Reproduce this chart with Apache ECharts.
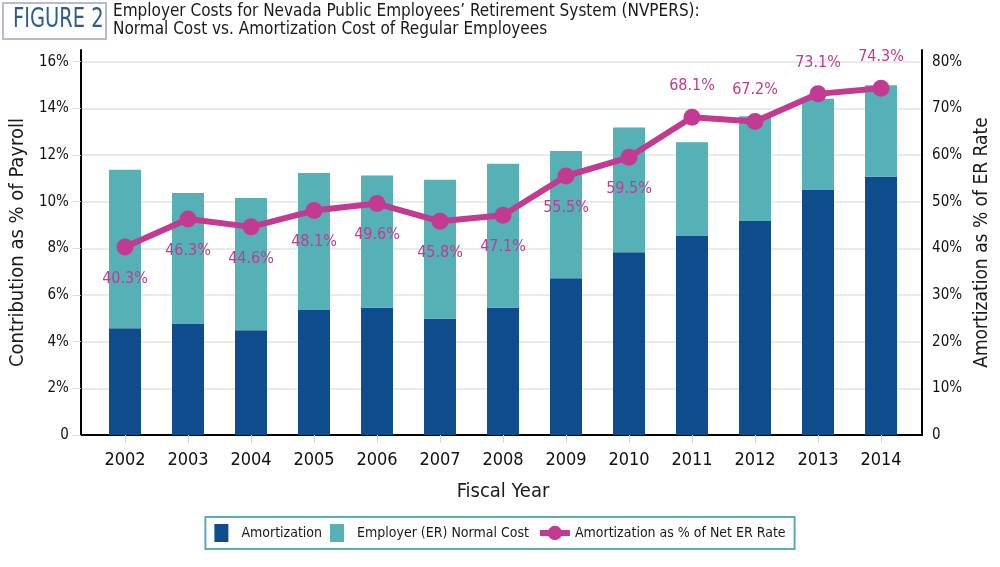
<!DOCTYPE html>
<html>
<head>
<meta charset="utf-8">
<script src="https://cdn.jsdelivr.net/npm/echarts@6/dist/echarts.min.js"></script>
<style>
html,body{margin:0;padding:0;background:#fff;}
#c{width:1000px;height:567px;}
</style>
</head>
<body>
<div id="c"></div>
<script>
var years = ['2002', '2003', '2004', '2005', '2006', '2007', '2008', '2009', '2010', '2011', '2012', '2013', '2014'];
var amortization = [4.58, 4.76, 4.49, 5.36, 5.45, 4.98, 5.45, 6.72, 7.83, 8.53, 9.17, 10.52, 11.07];
var normalCost = [6.79, 5.61, 5.67, 5.87, 5.67, 5.96, 6.17, 5.45, 5.35, 4.02, 4.49, 3.89, 3.92];
var amortPct = [40.3, 46.3, 44.6, 48.1, 49.6, 45.8, 47.1, 55.5, 59.5, 68.1, 67.2, 73.1, 74.3];
var leftTicks = [0, 2, 4, 6, 8, 10, 12, 14, 16];
var rightTicks = [0, 10, 20, 30, 40, 50, 60, 70, 80];
var labelAbove = ['2011', '2012', '2013', '2014'];

var FONT = '"Liberation Sans Narrow", "DejaVu Sans Condensed", "Roboto", sans-serif';
var C_AM = '#0f4c8c', C_NC = '#55b1b6', C_LN = '#c23a92';
var TXT = '#1a1a1a';

var chart = echarts.init(document.getElementById('c'));
chart.setOption({
  animation: false,
  textStyle: { fontFamily: FONT },
  graphic: [
    { type: 'rect', shape: { x: 3, y: 3, width: 103, height: 36 }, style: { fill: '#fff', stroke: '#b9b9d6', lineWidth: 2 } },
    { type: 'text', x: 13, y: 6, scaleX: 0.8, style: { text: 'FIGURE 2', fill: '#2b5d8e', font: '27px ' + FONT } },
    { type: 'text', left: 113, top: 3, style: { text: 'Employer Costs for Nevada Public Employees\u2019 Retirement System (NVPERS):\nNormal Cost vs. Amortization Cost of Regular Employees', fill: TXT, font: '17px ' + FONT, lineHeight: 18 } }
  ],
  grid: [
    { left: 93.5, right: 87.5, top: 50, bottom: 132 },
    { left: 77, right: 72, top: 50, bottom: 132 }
  ],
  xAxis: [
    {
      type: 'category', gridIndex: 0, data: years, boundaryGap: true,
      name: 'Fiscal Year', nameLocation: 'middle', nameGap: 47,
      nameTextStyle: { fontSize: 20, color: TXT, fontFamily: FONT },
      axisLine: { show: false },
      axisTick: { show: true, alignWithLabel: true, length: 8, lineStyle: { color: '#d8d8d8' } },
      axisLabel: { fontSize: 18, color: '#111', margin: 16 },
      splitLine: { show: false }
    },
    {
      type: 'value', gridIndex: 1, min: 0, max: 1,
      axisLine: { show: true, onZero: false, lineStyle: { color: '#000', width: 2 } },
      axisTick: { show: false }, axisLabel: { show: false }, splitLine: { show: false }
    }
  ],
  yAxis: [
    { type: 'value', gridIndex: 0, min: 0, max: 16.5, show: false },
    { type: 'value', gridIndex: 0, min: 0, max: 82.5, show: false },
    {
      type: 'value', gridIndex: 1, position: 'left', min: 0, max: 16.5,
      name: 'Contribution as % of Payroll', nameLocation: 'middle', nameGap: 50, nameRotate: 90,
      nameTextStyle: { fontSize: 20, color: TXT, fontFamily: FONT },
      axisLine: { show: true, lineStyle: { color: '#000', width: 2 } },
      axisTick: { show: true, length: 8, customValues: leftTicks, lineStyle: { color: '#dcdcdc' } },
      axisLabel: { customValues: leftTicks, fontSize: 15, color: '#111', margin: 12, formatter: function (v) { return v === 0 ? '0' : v + '%'; } },
      splitLine: { show: true, lineStyle: { color: '#e3e3e3', width: 1.5 } }
    },
    {
      type: 'value', gridIndex: 1, position: 'right', min: 0, max: 82.5,
      name: 'Amortization as % of ER Rate', nameLocation: 'middle', nameGap: 46, nameRotate: 90,
      nameTextStyle: { fontSize: 19, color: TXT, fontFamily: FONT },
      axisLine: { show: true, lineStyle: { color: '#000', width: 2 } },
      axisTick: { show: false, customValues: rightTicks },
      axisLabel: { customValues: rightTicks, fontSize: 15, color: '#111', margin: 10, formatter: function (v) { return v === 0 ? '0' : v + '%'; } },
      splitLine: { show: false }
    }
  ],
  legend: {
    left: 'center', top: 517,
    padding: [7, 9],
    borderColor: '#5aadb1', borderWidth: 2,
    itemWidth: 30, itemHeight: 18, itemGap: 8,
    textStyle: { fontSize: 14, color: TXT, fontFamily: FONT },
    data: [
      { name: 'Amortization', icon: 'path://M0,0 h14 v18 h-14z' },
      { name: 'Employer (ER) Normal Cost', icon: 'path://M0,0 h14 v18 h-14z' },
      { name: 'Amortization as % of Net ER Rate', lineStyle: { width: 6, color: C_LN } }
    ]
  },
  series: [
    { name: 'Amortization', type: 'bar', stack: 'c', barWidth: 32, xAxisIndex: 0, yAxisIndex: 0, data: amortization, itemStyle: { color: C_AM } },
    { name: 'Employer (ER) Normal Cost', type: 'bar', stack: 'c', barWidth: 32, xAxisIndex: 0, yAxisIndex: 0, data: normalCost, itemStyle: { color: C_NC } },
    {
      name: 'Amortization as % of Net ER Rate', type: 'line', xAxisIndex: 0, yAxisIndex: 1,
      symbol: 'circle', symbolSize: 17,
      lineStyle: { color: C_LN, width: 6 }, itemStyle: { color: C_LN },
      data: amortPct.map(function (v, i) {
        var above = labelAbove.indexOf(years[i]) >= 0;
        return { value: v, label: { position: above ? 'top' : 'bottom' } };
      }),
      label: {
        show: true, distance: 15, fontSize: 16, color: C_LN, fontFamily: FONT,
        formatter: function (p) { return p.value.toFixed(1) + '%'; }
      },
      z: 5
    }
  ]
});
</script>
</body>
</html>
